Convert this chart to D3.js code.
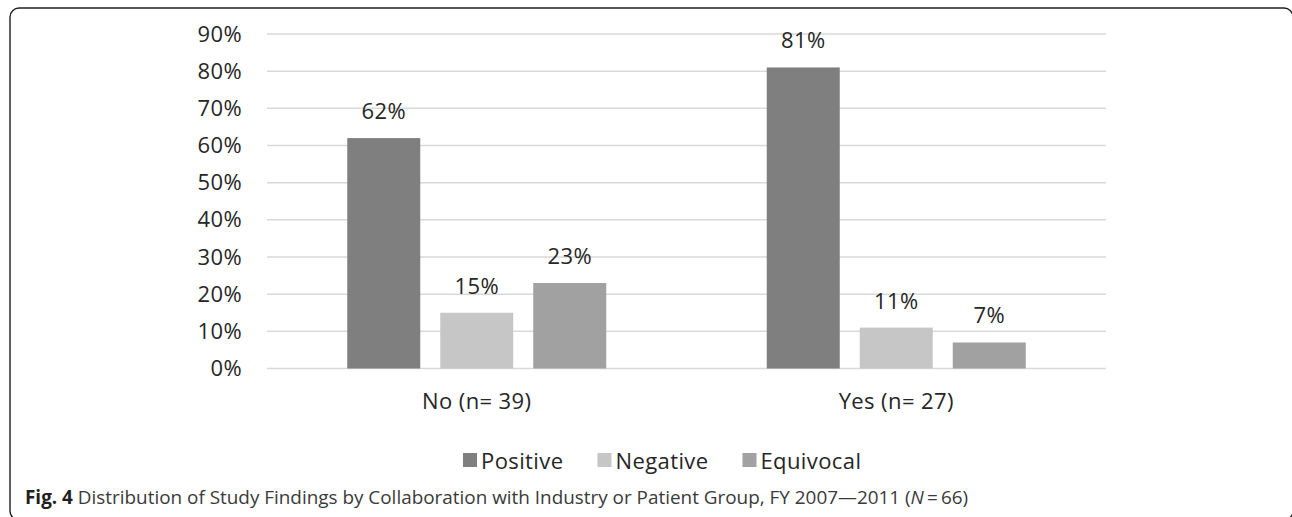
<!DOCTYPE html>
<html>
<head>
<meta charset="utf-8">
<script src="https://cdn.jsdelivr.net/npm/d3@7"></script>
<style>
  html, body { margin: 0; padding: 0; background: #fff; }
  svg { display: block; }
  text { font-family: "Open Sans", "Noto Sans", sans-serif; }
</style>
</head>
<body>
<svg id="chart" width="1292" height="517"></svg>
<script>
// Collaboration groups on the x axis
const categories = ["No (n= 39)", "Yes (n= 27)"];
// Finding types (series)
const seriesNames = ["Positive", "Negative", "Equivocal"];
// Share of studies per group, in percent
const positiveValues = [62, 81];
const negativeValues = [15, 11];
const equivocalValues = [23, 7];
// Y axis ticks
const yTicks = [0, 10, 20, 30, 40, 50, 60, 70, 80, 90];

const seriesValues = [positiveValues, negativeValues, equivocalValues];
const colors = ["#7f7f7f", "#c6c6c6", "#a1a1a1"];

const FONT = 22;
const LS = 0.4;

const svg = d3.select("#chart");

// Rounded frame
svg.append("rect")
  .attr("x", 10).attr("y", 8)
  .attr("width", 1283).attr("height", 512)
  .attr("rx", 9).attr("ry", 9)
  .attr("fill", "none")
  .attr("stroke", "#231f20")
  .attr("stroke-width", 1.4);

const plot = { left: 267, right: 1106, top: 34, bottom: 368.5 };

const x0 = d3.scaleBand()
  .domain(categories)
  .range([plot.left, plot.right])
  .paddingInner(0).paddingOuter(0);

const y = d3.scaleLinear()
  .domain([0, 90])
  .range([plot.bottom, plot.top]);

// Inner band for the three bars in each group
const groupWidth = 259;
const x1 = d3.scaleBand()
  .domain(seriesNames)
  .range([0, groupWidth])
  .paddingInner(20 / 93)
  .paddingOuter(0);

// Gridlines
svg.append("g")
  .selectAll("line")
  .data(yTicks)
  .join("line")
  .attr("x1", plot.left).attr("x2", plot.right)
  .attr("y1", d => y(d)).attr("y2", d => y(d))
  .attr("stroke", "#d9d9d9")
  .attr("stroke-width", 1.5);

// Y axis labels
const yAxis = d3.axisLeft(y)
  .tickValues(yTicks)
  .tickFormat(d => d + "%")
  .tickSize(0)
  .tickPadding(25);
const yg = svg.append("g")
  .attr("transform", `translate(${plot.left},0)`)
  .call(yAxis);
yg.select(".domain").remove();
yg.selectAll("text")
  .attr("font-size", FONT)
  .attr("letter-spacing", LS)
  .attr("fill", "#262626")
  .attr("font-family", "'Open Sans', sans-serif");

// Bars
const groups = svg.append("g")
  .selectAll("g")
  .data(categories)
  .join("g")
  .attr("transform", c => `translate(${x0(c) + (x0.bandwidth() - groupWidth) / 2},0)`);

const rows = (c, ci) => seriesNames.map((s, si) => ({ s, si, v: seriesValues[si][ci] }));

groups.selectAll("rect")
  .data(rows)
  .join("rect")
  .attr("x", d => x1(d.s))
  .attr("width", x1.bandwidth())
  .attr("y", d => y(d.v))
  .attr("height", d => y(0) - y(d.v))
  .attr("fill", d => colors[d.si]);

// Value labels above bars
groups.selectAll("text")
  .data(rows)
  .join("text")
  .attr("x", d => x1(d.s) + x1.bandwidth() / 2)
  .attr("y", d => y(d.v) - 19)
  .attr("text-anchor", "middle")
  .attr("font-size", FONT)
  .attr("letter-spacing", LS)
  .attr("fill", "#262626")
  .text(d => d.v + "%");

// Category labels
svg.append("g")
  .selectAll("text")
  .data(categories)
  .join("text")
  .attr("x", c => x0(c) + x0.bandwidth() / 2)
  .attr("y", 409)
  .attr("text-anchor", "middle")
  .attr("font-size", FONT)
  .attr("letter-spacing", LS)
  .attr("fill", "#262626")
  .text(c => c);

// Legend
const legend = svg.append("g").attr("transform", "translate(463,0)");
let lx = 0;
seriesNames.forEach((name, i) => {
  const item = legend.append("g").attr("transform", `translate(${lx},0)`);
  item.append("rect")
    .attr("x", 0).attr("y", 453)
    .attr("width", 14).attr("height", 14)
    .attr("fill", colors[i]);
  const t = item.append("text")
    .attr("x", 18).attr("y", 469)
    .attr("font-size", FONT)
    .attr("letter-spacing", LS)
    .attr("fill", "#262626")
    .text(name);
  lx += 18 + t.node().getComputedTextLength() + 34;
});

// Figure caption
const cap = svg.append("text")
  .attr("x", 25).attr("y", 504)
  .attr("font-size", 18.9)
  .attr("fill", "#3a3a3a");
cap.append("tspan").attr("font-weight", "bold").attr("fill", "#231f20").text("Fig. 4");
cap.append("tspan").text(" Distribution of Study Findings by Collaboration with Industry or Patient Group, FY 2007\u20142011 (");
cap.append("tspan").attr("font-style", "italic").text("N");
cap.append("tspan").text("\u2009=\u200966)");
</script>
</body>
</html>
